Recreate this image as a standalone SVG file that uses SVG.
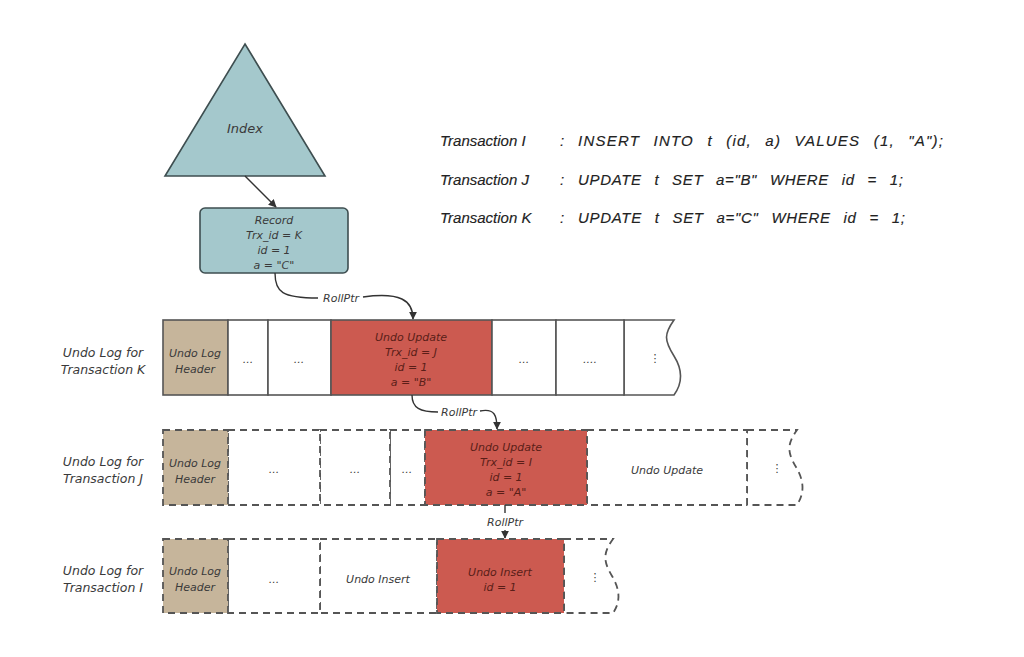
<svg xmlns="http://www.w3.org/2000/svg" width="1024" height="657" viewBox="0 0 1024 657">
<defs>
<marker id="ah" viewBox="0 0 10 10" refX="9" refY="5" markerWidth="8" markerHeight="8" orient="auto" markerUnits="userSpaceOnUse">
<path d="M0,0 L10,5 L0,10 z" fill="#333"/>
</marker>
<style>
text{font-family:"DejaVu Sans","Liberation Sans",sans-serif;font-style:italic;fill:#3a3a3a;text-anchor:middle}
.c{font-size:11px}
.r{font-size:11px;fill:#5a1e18}
.lbl{font-size:12.5px}
.idx{font-size:13px}
.top{font-family:"Liberation Sans",Arial,sans-serif;font-size:15px;text-anchor:start;fill:#222;stroke:#222;stroke-width:0.15}
.stm{word-spacing:8px}
.solid{fill:#fff;stroke:#555;stroke-width:1.6}
.dash{fill:#fff;stroke:#555;stroke-width:1.8;stroke-dasharray:7 5}
.hdr{fill:#c6b59b}
.red{fill:#cc5a50}
.conn{fill:none;stroke:#333;stroke-width:1.4}
</style>
</defs>
<rect width="1024" height="657" fill="#fff"/>

<g id="index">
<polygon points="245,44 325,176 165,176" fill="#a4c8cc" stroke="#3e4e50" stroke-width="1.6"/>
<text x="245" y="133" class="idx">Index</text>
</g>

<g id="record">
<rect x="200" y="208" width="148" height="65" rx="5" fill="#a4c8cc" stroke="#3e4e50" stroke-width="1.6"/>
<text x="274" y="224" class="c">Record</text>
<text x="274" y="239" class="c">Trx_id = K</text>
<text x="274" y="254" class="c">id = 1</text>
<text x="274" y="269" class="c">a = "C"</text>
</g>

<g id="statements">
<text x="440" y="146" class="top">Transaction I</text><text x="560" y="146" class="top">:</text>
<text x="578" y="146" class="top stm" textLength="365" lengthAdjust="spacing">INSERT INTO t (id, a) VALUES (1, "A");</text>
<text x="440" y="185" class="top">Transaction J</text><text x="560" y="185" class="top">:</text>
<text x="578" y="185" class="top stm" textLength="325" lengthAdjust="spacing">UPDATE t SET a="B" WHERE id = 1;</text>
<text x="440" y="223" class="top">Transaction K</text><text x="560" y="223" class="top">:</text>
<text x="578" y="223" class="top stm" textLength="327" lengthAdjust="spacing">UPDATE t SET a="C" WHERE id = 1;</text>
</g>

<g id="logK">
<text x="103" y="357" class="lbl">Undo Log for</text>
<text x="103" y="374" class="lbl">Transaction K</text>
<path d="M624,320 L674,320 C664,334 664,340 674,356 C684,372 682,384 674,395 L624,395 Z" class="solid"/>
<rect x="163" y="320" width="65" height="75" class="solid hdr"/>
<rect x="228" y="320" width="40" height="75" class="solid"/>
<rect x="268" y="320" width="63" height="75" class="solid"/>
<rect x="331" y="320" width="161" height="75" class="solid red"/>
<rect x="492" y="320" width="64" height="75" class="solid"/>
<rect x="556" y="320" width="68" height="75" class="solid"/>
<text x="195" y="357" class="c">Undo Log</text>
<text x="195" y="373" class="c">Header</text>
<text x="248" y="363" class="c">...</text>
<text x="299" y="363" class="c">...</text>
<text x="411" y="341" class="r">Undo Update</text>
<text x="411" y="356" class="r">Trx_id = J</text>
<text x="411" y="371" class="r">id = 1</text>
<text x="411" y="386" class="r">a = "B"</text>
<text x="524" y="363" class="c">...</text>
<text x="590" y="363" class="c">....</text>
<text x="655" y="362" class="c">⋮</text>
</g>

<g id="logJ">
<text x="103" y="466" class="lbl">Undo Log for</text>
<text x="103" y="483" class="lbl">Transaction J</text>
<path d="M747,430 L797,430 C787,444 787,452 796,467 C805,482 804,494 797,505 L747,505 Z" class="dash"/>
<rect x="587" y="430" width="160" height="75" class="dash"/>
<rect x="390" y="430" width="35" height="75" class="dash"/>
<rect x="320" y="430" width="70" height="75" class="dash"/>
<rect x="228" y="430" width="92" height="75" class="dash"/>
<rect x="425" y="430" width="162" height="75" class="dash red"/>
<rect x="163" y="430" width="65" height="75" class="dash hdr"/>
<text x="195" y="467" class="c">Undo Log</text>
<text x="195" y="483" class="c">Header</text>
<text x="274" y="473" class="c">...</text>
<text x="355" y="473" class="c">...</text>
<text x="407" y="473" class="c">...</text>
<text x="506" y="451" class="r">Undo Update</text>
<text x="506" y="466" class="r">Trx_id = I</text>
<text x="506" y="481" class="r">id = 1</text>
<text x="506" y="496" class="r">a = "A"</text>
<text x="667" y="474" class="c">Undo Update</text>
<text x="777" y="472" class="c">⋮</text>
</g>

<g id="logI">
<text x="103" y="575" class="lbl">Undo Log for</text>
<text x="103" y="592" class="lbl">Transaction I</text>
<path d="M564,539 L613,539 C603,553 603,561 612,576 C621,591 620,603 613,613 L564,613 Z" class="dash"/>
<rect x="320" y="539" width="117" height="74" class="dash"/>
<rect x="228" y="539" width="92" height="74" class="dash"/>
<rect x="437" y="539" width="127" height="74" class="dash red"/>
<rect x="163" y="539" width="65" height="74" class="dash hdr"/>
<text x="195" y="575" class="c">Undo Log</text>
<text x="195" y="591" class="c">Header</text>
<text x="274" y="583" class="c">...</text>
<text x="378" y="583" class="c">Undo Insert</text>
<text x="500" y="576" class="r">Undo Insert</text>
<text x="500" y="591" class="r">id = 1</text>
<text x="595" y="581" class="c">⋮</text>
</g>

<g id="connectors">
<line x1="245" y1="176" x2="276" y2="207" class="conn" marker-end="url(#ah)"/>
<path d="M275,273 C275,292 282,298 318,298" class="conn"/>
<text x="341" y="302" class="c">RollPtr</text>
<path d="M363,297 C400,292 413,300 413,319" class="conn" marker-end="url(#ah)"/>
<path d="M412,395 C412,408 420,412 438,412" class="conn"/>
<text x="459" y="416" class="c">RollPtr</text>
<path d="M480,411 C495,408 497,416 497,429" class="conn" marker-end="url(#ah)"/>
<line x1="505" y1="505" x2="505" y2="513" class="conn"/>
<text x="505" y="526" class="c">RollPtr</text>
<line x1="505" y1="530" x2="505" y2="538" class="conn" marker-end="url(#ah)"/>
</g>
</svg>
